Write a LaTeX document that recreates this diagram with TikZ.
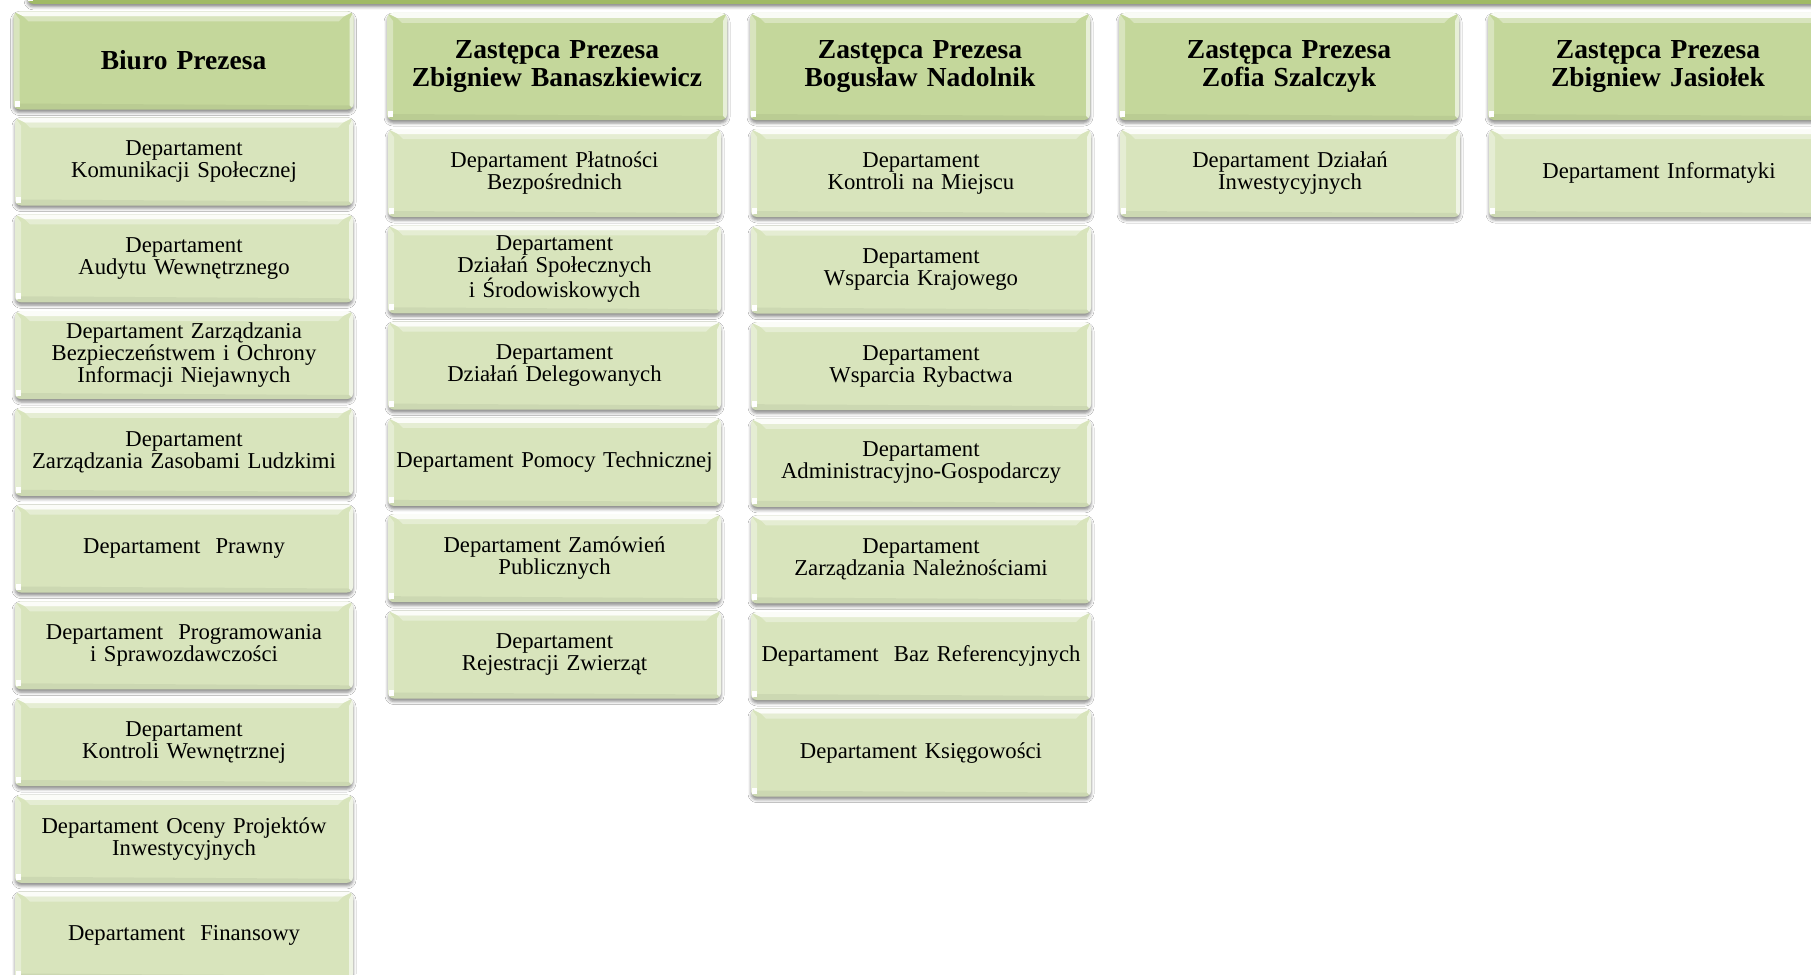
\documentclass[tikz,border=0pt]{standalone}
\usepackage{fontspec}
\setmainfont{Liberation Serif}[WordSpace=0.8]
\usetikzlibrary{shadows.blur}
\definecolor{hdrfill}{HTML}{C4D79B}
\definecolor{deptfill}{HTML}{D8E4BC}
\definecolor{barfill}{HTML}{A9C46C}
\tikzset{
  bevelbox/.style={rounded corners=6pt,
    blur shadow={shadow xshift=0pt,shadow yshift=-3pt,shadow blur radius=3pt,shadow opacity=45},
    path picture={
      \fill[white,opacity=.9,sharp corners]
        (path picture bounding box.north west) -- (path picture bounding box.north east)
        -- ([xshift=-10pt,yshift=-5pt]path picture bounding box.north east)
        -- ([xshift=10pt,yshift=-5pt]path picture bounding box.north west) -- cycle;
      \fill[white,opacity=.35,sharp corners]
        ([xshift=10pt,yshift=-5pt]path picture bounding box.north west)
        -- ([xshift=-10pt,yshift=-5pt]path picture bounding box.north east)
        -- ([xshift=-15pt,yshift=-10pt]path picture bounding box.north east)
        -- ([xshift=15pt,yshift=-10pt]path picture bounding box.north west) -- cycle;
      \fill[white,opacity=.35,sharp corners]
        (path picture bounding box.north west)
        -- ([xshift=6pt,yshift=-8pt]path picture bounding box.north west)
        -- ([xshift=6pt,yshift=6pt]path picture bounding box.south west)
        -- (path picture bounding box.south west) -- cycle;
      \fill[white,opacity=.6,sharp corners]
        (path picture bounding box.north east)
        -- (path picture bounding box.south east)
        -- ([xshift=-4pt,yshift=4pt]path picture bounding box.south east)
        -- ([xshift=-4pt,yshift=-8pt]path picture bounding box.north east) -- cycle;
      \fill[black,opacity=.05,sharp corners]
        (path picture bounding box.south west)
        -- (path picture bounding box.south east)
        -- ([xshift=-4pt,yshift=4pt]path picture bounding box.south east)
        -- ([xshift=6pt,yshift=6pt]path picture bounding box.south west) -- cycle;
      \fill[white,sharp corners]
        ([xshift=1pt,yshift=3pt]path picture bounding box.south west)
        rectangle ([xshift=6pt,yshift=9pt]path picture bounding box.south west);
    }},
  hdr/.style={bevelbox, fill=hdrfill, minimum width=340pt, minimum height=107pt,
    align=center, text width=326pt, font=\bfseries\fontsize{27.5}{27.7}\selectfont},
  dept/.style={bevelbox, fill=deptfill, minimum width=338pt, minimum height=88pt,
    align=center, text width=326pt, font=\fontsize{22.7}{22}\selectfont},
  barbox/.style={bevelbox, fill=barfill, minimum width=1900pt, minimum height=80pt}
}
\begin{document}
\begin{tikzpicture}[x=1pt,y=-1pt]
\useasboundingbox (0,0) rectangle (1811,974);
\clip (0,0) rectangle (1811,974);
\fill[white] (0,0) rectangle (1811,974);
% top bar
\node[barbox, anchor=south west] (topbar) at (27,4) {};
% column 1
\node[hdr, minimum height=98pt] (h1) at (183.5,60.5) {Biuro Prezesa};
\node[dept] (a1) at (184,161.5) {Departament\\Komunikacji Społecznej};
\node[dept] (a2) at (184,258.3) {Departament\\Audytu Wewnętrznego};
\node[dept] (a3) at (184,355) {Departament Zarządzania\\Bezpieczeństwem i Ochrony\\Informacji Niejawnych};
\node[dept] (a4) at (184,451.8) {Departament\\Zarządzania Zasobami Ludzkimi};
\node[dept] (a5) at (184,548.5) {Departament~ Prawny};
\node[dept] (a6) at (184,645.3) {Departament~ Programowania\\i Sprawozdawczości};
\node[dept] (a7) at (184,742) {Departament\\Kontroli Wewnętrznej};
\node[dept] (a8) at (184,838.8) {Departament Oceny Projektów\\Inwestycyjnych};
\node[dept] (a9) at (184,935.5) {Departament~ Finansowy};
% column 2
\node[hdr] (h2) at (557,66.5) {Zastępca Prezesa\\Zbigniew Banaszkiewicz};
\node[dept, minimum width=333pt] (b1) at (554.5,173) {Departament Płatności\\Bezpośrednich};
\node[dept, minimum width=333pt] (b2) at (554.5,269.3) {Departament\\Działań Społecznych\\i Środowiskowych};
\node[dept, minimum width=333pt] (b3) at (554.5,365.6) {Departament\\Działań Delegowanych};
\node[dept, minimum width=333pt] (b4) at (554.5,461.9) {Departament Pomocy Technicznej};
\node[dept, minimum width=333pt] (b5) at (554.5,558.2) {Departament Zamówień\\Publicznych};
\node[dept, minimum width=333pt] (b6) at (554.5,654.5) {Departament\\Rejestracji Zwierząt};
% column 3
\node[hdr] (h3) at (920,66.5) {Zastępca Prezesa\\Bogusław Nadolnik};
\node[dept, minimum width=340pt] (c1) at (921,173) {Departament\\Kontroli na Miejscu};
\node[dept, minimum width=340pt] (c2) at (921,269.6) {Departament\\Wsparcia Krajowego};
\node[dept, minimum width=340pt] (c3) at (921,366.2) {Departament\\Wsparcia Rybactwa};
\node[dept, minimum width=340pt] (c4) at (921,462.8) {Departament\\Administracyjno-Gospodarczy};
\node[dept, minimum width=340pt] (c5) at (921,559.4) {Departament\\Zarządzania Należnościami};
\node[dept, minimum width=340pt] (c6) at (921,656) {Departament~ Baz Referencyjnych};
\node[dept, minimum width=340pt] (c7) at (921,752.6) {Departament Księgowości};
% column 4
\node[hdr] (h4) at (1289,66.5) {Zastępca Prezesa\\Zofia Szalczyk};
\node[dept, minimum width=340pt] (d1) at (1290,173) {Departament Działań\\Inwestycyjnych};
% column 5
\node[hdr] (h5) at (1658,66.5) {Zastępca Prezesa\\Zbigniew Jasiołek};
\node[dept, minimum width=340pt] (e1) at (1659,173) {Departament Informatyki};
\end{tikzpicture}
\end{document}
